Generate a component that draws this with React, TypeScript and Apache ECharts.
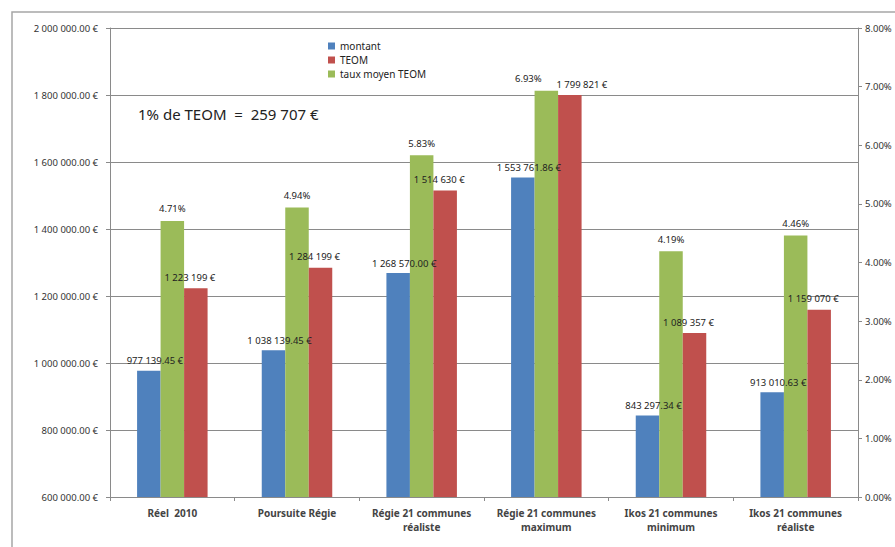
import React, { useEffect, useRef } from "react";
import * as echarts from "echarts";

const categories = [
  "Réel  2010",
  "Poursuite Régie",
  "Régie 21 communes\nréaliste",
  "Régie 21 communes\nmaximum",
  "Ikos 21 communes\nminimum",
  "Ikos 21 communes\nréaliste",
];
const montant = [977139.45, 1038139.45, 1268570.0, 1553761.86, 843297.34, 913010.63];
const teom = [1223199, 1284199, 1514630, 1799821, 1089357, 1159070];
const tauxMoyen = [4.71, 4.94, 5.83, 6.93, 4.19, 4.46];
const legendNames = ["montant", "TEOM", "taux moyen TEOM"];
const annotation = "1% de TEOM  =  259 707 €";

const FONT = '"Noto Sans", "Open Sans", sans-serif';

function euro(v: number, decimals: number): string {
  const s = v.toFixed(decimals);
  const parts = s.split(".");
  const g = parts[0].replace(/\B(?=(\d{3})+(?!\d))/g, " ");
  return (parts[1] ? g + "." + parts[1] : g) + " €";
}

export default function App() {
  const ref = useRef<HTMLDivElement>(null);
  useEffect(() => {
    if (!ref.current) return;
    const chart = echarts.init(ref.current, undefined, { renderer: "svg" });
    const labelBase = { show: true, position: "top", distance: 5, fontSize: 9.5, fontFamily: FONT, color: "#222" };
    // the tallest group's labels were moved apart in the original to avoid overlap
    const tauxData = tauxMoyen.map((v, i) => (i === 3 ? { value: v, label: { offset: [-18, 0] } } : v));
    const teomData = teom.map((v, i) => (i === 3 ? { value: v, label: { offset: [12, 0] } } : v));
    chart.setOption({
      animation: false,
      backgroundColor: "#ffffff",
      textStyle: { fontFamily: FONT },
      grid: { left: 110, right: 37, top: 28, bottom: 50, containLabel: false },
      legend: {
        data: legendNames,
        orient: "vertical",
        left: 323,
        top: 36,
        icon: "rect",
        itemWidth: 7,
        itemHeight: 7,
        itemGap: 4,
        textStyle: { fontSize: 10, color: "#222", fontFamily: FONT },
      },
      xAxis: {
        type: "category",
        data: categories,
        axisLine: { lineStyle: { color: "#8a8a8a" } },
        axisTick: { show: true, length: 4, lineStyle: { color: "#8a8a8a" } },
        axisLabel: { color: "#444", fontSize: 10, fontWeight: "bold", margin: 9, lineHeight: 14, interval: 0 },
      },
      yAxis: [
        {
          type: "value",
          min: 600000,
          max: 2000000,
          interval: 200000,
          axisLine: { show: true, lineStyle: { color: "#8a8a8a" } },
          axisTick: { show: true, length: 4, lineStyle: { color: "#8a8a8a" } },
          axisLabel: { color: "#333", fontSize: 9.5, margin: 12, formatter: (v: number) => euro(v, 2) },
          splitLine: { show: true, lineStyle: { color: "#8a8a8a", width: 1 } },
        },
        {
          type: "value",
          min: 0,
          max: 8,
          interval: 1,
          position: "right",
          axisLine: { show: true, lineStyle: { color: "#8a8a8a" } },
          axisTick: { show: true, length: 4, lineStyle: { color: "#8a8a8a" } },
          axisLabel: { color: "#333", fontSize: 9.5, margin: 7, formatter: (v: number) => v.toFixed(2) + "%" },
          splitLine: { show: false },
        },
      ],
      series: [
        {
          name: "montant",
          type: "bar",
          data: montant,
          barWidth: 23.5,
          barGap: "0%",
          itemStyle: { color: "#4F81BD" },
          label: { ...labelBase, offset: [6, 0], formatter: (p: any) => euro(p.value, 2) },
        },
        {
          name: "taux moyen TEOM",
          type: "bar",
          yAxisIndex: 1,
          data: tauxData,
          barWidth: 23.5,
          barGap: "0%",
          itemStyle: { color: "#9BBB59" },
          label: { ...labelBase, distance: 7, formatter: (p: any) => Number(p.value).toFixed(2) + "%" },
        },
        {
          name: "TEOM",
          type: "bar",
          data: teomData,
          barWidth: 23.5,
          barGap: "0%",
          itemStyle: { color: "#C0504D" },
          label: { ...labelBase, distance: 6, offset: [-6, 0], formatter: (p: any) => euro(Number(p.value), 0) },
        },
      ],
      graphic: [
        {
          type: "rect",
          shape: { x: 12, y: 12, width: 950, height: 650 },
          style: { fill: "none", stroke: "#a6a6a6", lineWidth: 1.5 },
          silent: true,
        },
        {
          type: "text",
          x: 138,
          y: 106,
          style: { text: annotation, fontSize: 15, fontFamily: FONT, fill: "#222" },
        },
      ],
    });
    return () => chart.dispose();
  }, []);
  return <div ref={ref} style={{ position: "fixed", left: 0, top: 0, width: 895, height: 547 }} />;
}
